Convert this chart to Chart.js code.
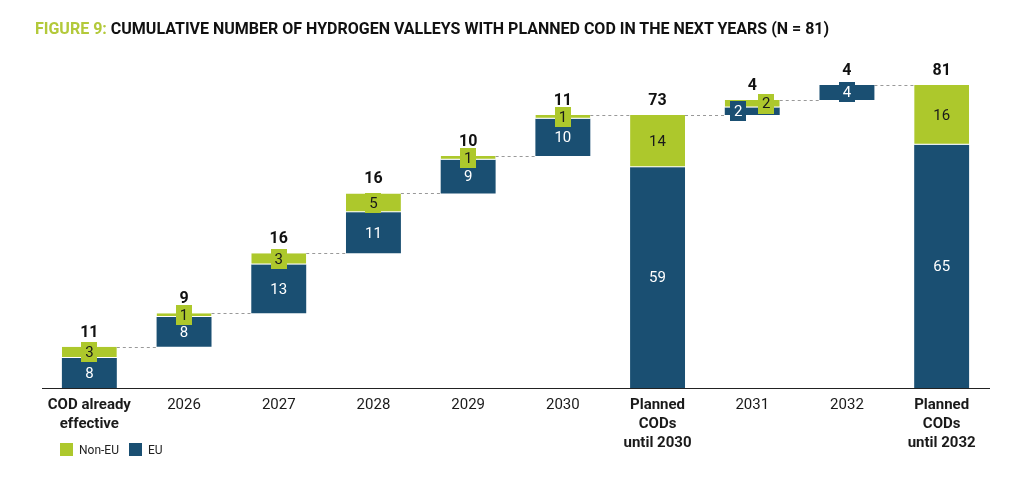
<!DOCTYPE html>
<html>
<head>
<meta charset="utf-8">
<script src="https://cdn.jsdelivr.net/npm/chart.js@4"></script>
<style>
  html, body { margin: 0; padding: 0; background: #fff; }
  #wrap { position: relative; width: 1024px; height: 499px; overflow: hidden; }
  #title { position: absolute; left: 35px; top: 19px; font-family: Roboto, sans-serif; font-weight: bold; font-size: 16px; color: #111; white-space: nowrap; transform-origin: 0 0; }
  #title span { color: #b3c93a; }
  #legend { position: absolute; left: 60px; top: 443px; font-family: Roboto, sans-serif; font-size: 12px; color: #222; }
  #legend i { display: inline-block; width: 13px; height: 13px; vertical-align: -2px; margin-right: 6px; }
  #legend b { font-weight: normal; margin-right: 10px; }
  canvas { position: absolute; left: 0; top: 0; }
</style>
</head>
<body>
<div id="wrap">
  <canvas id="chart" width="1024" height="499"></canvas>
  <div id="title"><span>FIGURE 9:</span> CUMULATIVE NUMBER OF HYDROGEN VALLEYS WITH PLANNED COD IN THE NEXT YEARS (N = 81)</div>
  <div id="legend"><i style="background:#adc82c"></i><b>Non-EU</b><i style="background:#1a4f72"></i><b>EU</b></div>
</div>
<script>
// data
var categories = [["COD already", "effective"], "2026", "2027", "2028", "2029", "2030", ["Planned", "CODs", "until 2030"], "2031", "2032", ["Planned", "CODs", "until 2032"]];
var isTotal = [false, false, false, false, false, false, true, false, false, true];
var euValues = [8, 8, 13, 11, 9, 10, 59, 2, 4, 65];
var nonEuValues = [3, 1, 3, 5, 1, 1, 14, 2, 0, 16];

var blue = '#1a4f72';
var green = '#adc82c';

// build floating ranges for the waterfall
var euRanges = [], nonEuRanges = [], barTops = [];
var running = 0;
for (var i = 0; i < categories.length; i++) {
    var start = isTotal[i] ? 0 : running;
    var end = start + euValues[i] + nonEuValues[i];
    euRanges.push([start, start + euValues[i]]);
    nonEuRanges.push(nonEuValues[i] > 0 ? [start + euValues[i], end] : null);
    barTops.push(end);
    if (!isTotal[i]) running = end;
}

var connectors = {
    id: 'connectors',
    beforeDatasetsDraw: function(chart) {
        var ctx = chart.ctx, y = chart.scales.y;
        var meta = chart.getDatasetMeta(1);
        ctx.save();
        ctx.strokeStyle = '#999';
        ctx.lineWidth = 1;
        ctx.setLineDash([3, 3]);
        for (var i = 0; i < barTops.length - 1; i++) {
            var a = meta.data[i], b = meta.data[i + 1];
            var py = Math.round(y.getPixelForValue(barTops[i])) + 0.5;
            ctx.beginPath();
            ctx.moveTo(a.x + a.width / 2, py);
            ctx.lineTo(b.x - b.width / 2, py);
            ctx.stroke();
        }
        ctx.restore();
    }
};

function segLabel(ctx, text, x, y, h, bg, fg) {
    ctx.font = '15px Roboto';
    var w = ctx.measureText(text).width;
    if (h < 20) {
        ctx.fillStyle = bg;
        ctx.fillRect(Math.round(x - w / 2 - 4), Math.round(y - 10), Math.round(w + 8), 20);
    }
    ctx.fillStyle = fg;
    ctx.fillText(text, x, y + 1);
}

var valueLabels = {
    id: 'valueLabels',
    afterDatasetsDraw: function(chart) {
        var ctx = chart.ctx;
        var y = chart.scales.y;
        var euMeta = chart.getDatasetMeta(1);
        ctx.save();
        ctx.textAlign = 'center';
        ctx.textBaseline = 'middle';
        for (var i = 0; i < categories.length; i++) {
            var x = euMeta.data[i].x;
            var e0 = y.getPixelForValue(euRanges[i][0]), e1 = y.getPixelForValue(euRanges[i][1]);
            var eh = Math.abs(e0 - e1);
            var nh = 0, n0 = 0, n1 = 0;
            if (nonEuRanges[i]) {
                n0 = y.getPixelForValue(nonEuRanges[i][0]);
                n1 = y.getPixelForValue(nonEuRanges[i][1]);
                nh = Math.abs(n0 - n1);
            }
            // both segments too thin: put the two labels side by side
            var shift = (nonEuRanges[i] && eh < 12 && nh < 12) ? 14 : 0;
            segLabel(ctx, String(euValues[i]), x - shift, (e0 + e1) / 2, eh, blue, '#fff');
            if (nonEuRanges[i]) {
                segLabel(ctx, String(nonEuValues[i]), x + shift, (n0 + n1) / 2, nh, green, '#1a1a1a');
            }
            ctx.font = 'bold 16px Roboto';
            ctx.fillStyle = '#111';
            ctx.fillText(String(euValues[i] + nonEuValues[i]), x, y.getPixelForValue(barTops[i]) - 14);
        }
        ctx.restore();
    }
};

new Chart(document.getElementById('chart'), {
    type: 'bar',
    data: {
        labels: categories,
        datasets: [{
            label: 'Non-EU',
            data: nonEuRanges,
            backgroundColor: green,
            borderColor: '#fff',
            borderWidth: { top: 0, left: 0, right: 0, bottom: 1 },
            borderSkipped: false,
            grouped: false,
            barPercentage: 1,
            categoryPercentage: 0.58
        }, {
            label: 'EU',
            data: euRanges,
            backgroundColor: blue,
            borderWidth: 0,
            grouped: false,
            barPercentage: 1,
            categoryPercentage: 0.58
        }]
    },
    options: {
        responsive: false,
        animation: false,
        layout: { padding: { left: 42, right: 35, top: 85, bottom: 0 } },
        plugins: {
            legend: { display: false },
            tooltip: { enabled: false }
        },
        scales: {
            x: {
                grid: { display: false },
                border: { display: true, color: '#222', width: 1 },
                afterFit: function(scale) { scale.height = 111; },
                ticks: {
                    maxRotation: 0,
                    autoSkip: false,
                    padding: 0,
                    color: '#1a1a1a',
                    font: function(c) {
                        var lbl = categories[c.index];
                        return { family: 'Roboto', size: 15, lineHeight: 1.25, weight: Array.isArray(lbl) ? 'bold' : 'normal' };
                    }
                }
            },
            y: {
                display: false,
                min: 0,
                max: 81
            }
        }
    },
    plugins: [connectors, valueLabels]
});
</script>
</body>
</html>
